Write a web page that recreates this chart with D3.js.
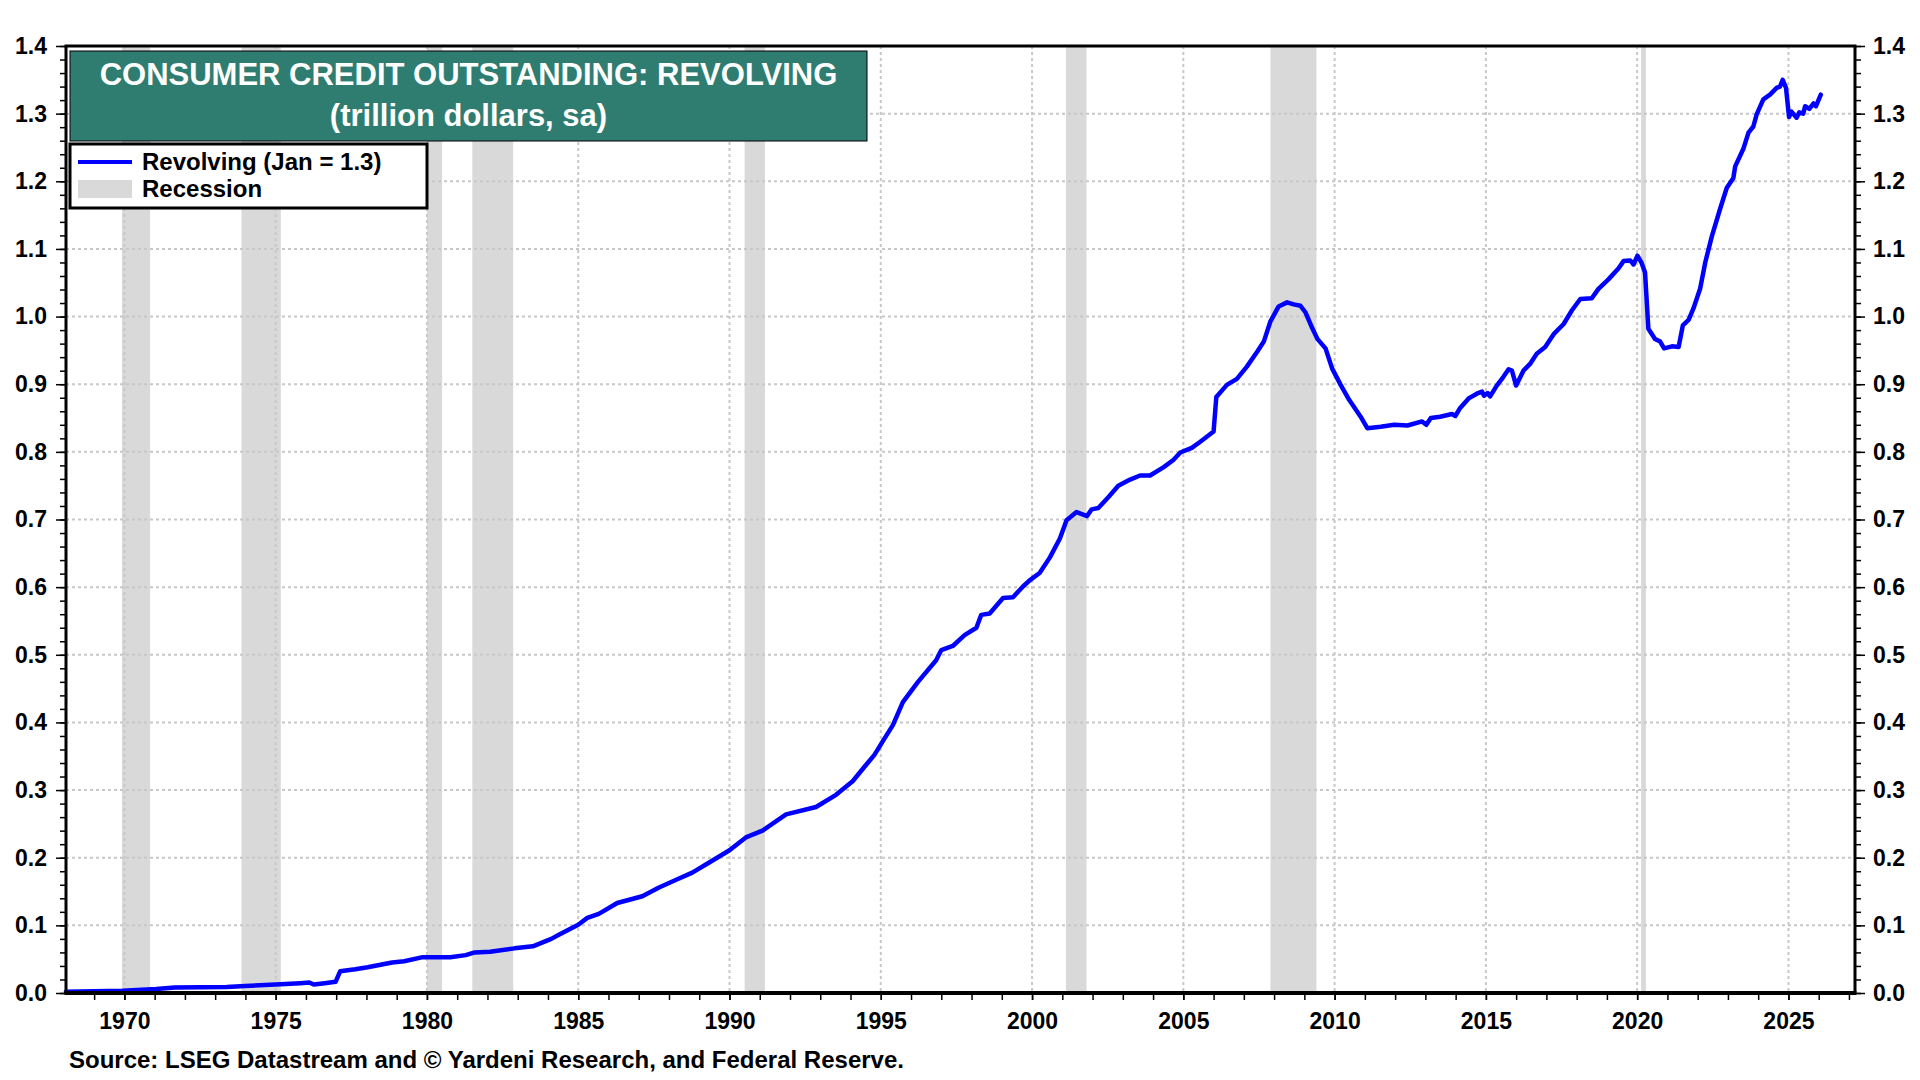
<!DOCTYPE html>
<html><head><meta charset="utf-8">
<script src="https://cdn.jsdelivr.net/npm/d3@7"></script>
<style>
body{margin:0;background:#fff;}
svg{display:block;font-family:"Liberation Sans",Arial,sans-serif;font-weight:bold;}
</style></head><body>
<svg id="chart" width="1920" height="1080"></svg>
<script>
// ---- data ----
const dates = [1968.07,1969.94,1971.05,1971.66,1973.38,1973.99,1975.0,1975.81,1976.11,1976.26,1976.62,1976.98,1977.13,1977.63,1978.04,1978.85,1979.25,1979.86,1980.77,1981.28,1981.58,1982.09,1982.89,1983.5,1984.11,1984.36,1985.0,1985.3,1985.68,1986.29,1987.12,1987.67,1988.22,1988.77,1989.33,1990.0,1990.54,1991.09,1991.87,1992.86,1993.52,1994.07,1994.51,1994.79,1995.12,1995.4,1995.73,1996.23,1996.83,1997.0,1997.38,1997.77,1998.16,1998.32,1998.6,1999.04,1999.37,1999.7,1999.92,2000.25,2000.59,2000.92,2001.14,2001.47,2001.82,2001.97,2002.19,2002.52,2002.85,2003.24,2003.57,2003.9,2004.34,2004.67,2004.9,2005.28,2005.56,2006.0,2006.09,2006.44,2006.77,2007.1,2007.44,2007.66,2007.88,2008.15,2008.43,2008.65,2008.87,2009.04,2009.26,2009.43,2009.7,2009.92,2010.2,2010.48,2010.86,2011.08,2011.52,2011.97,2012.41,2012.89,2013.03,2013.18,2013.49,2013.88,2013.99,2014.15,2014.43,2014.7,2014.87,2014.94,2015.06,2015.14,2015.36,2015.58,2015.75,2015.86,2016.0,2016.24,2016.46,2016.68,2016.96,2017.24,2017.57,2017.84,2018.12,2018.5,2018.72,2019.05,2019.38,2019.55,2019.77,2019.88,2020.01,2020.15,2020.26,2020.37,2020.59,2020.76,2020.89,2021.15,2021.37,2021.51,2021.7,2021.86,2022.08,2022.25,2022.47,2022.74,2022.96,2023.18,2023.24,2023.51,2023.68,2023.84,2023.95,2024.17,2024.39,2024.61,2024.72,2024.81,2024.92,2025.02,2025.1,2025.27,2025.36,2025.49,2025.55,2025.69,2025.83,2025.91,2026.07];
const revolving = [0.002,0.0035,0.006,0.008,0.009,0.0105,0.0125,0.0145,0.0155,0.0125,0.0145,0.0165,0.032,0.035,0.038,0.045,0.047,0.053,0.053,0.056,0.06,0.061,0.066,0.069,0.08,0.086,0.101,0.111,0.117,0.133,0.143,0.156,0.167,0.178,0.193,0.211,0.23,0.24,0.264,0.275,0.293,0.313,0.337,0.352,0.376,0.396,0.43,0.46,0.492,0.507,0.513,0.529,0.54,0.559,0.561,0.584,0.585,0.601,0.61,0.621,0.644,0.672,0.699,0.711,0.705,0.715,0.717,0.733,0.75,0.759,0.765,0.765,0.777,0.788,0.799,0.806,0.815,0.83,0.881,0.899,0.908,0.926,0.948,0.963,0.993,1.015,1.021,1.018,1.016,1.006,0.983,0.967,0.953,0.923,0.899,0.877,0.852,0.835,0.837,0.84,0.839,0.845,0.84,0.85,0.852,0.856,0.853,0.865,0.879,0.886,0.889,0.883,0.887,0.882,0.898,0.911,0.922,0.92,0.898,0.92,0.93,0.945,0.955,0.974,0.989,1.009,1.026,1.027,1.041,1.055,1.071,1.082,1.083,1.077,1.09,1.079,1.065,0.982,0.967,0.963,0.953,0.956,0.955,0.987,0.995,1.012,1.041,1.08,1.119,1.159,1.19,1.205,1.222,1.248,1.272,1.281,1.299,1.321,1.328,1.338,1.34,1.35,1.338,1.295,1.303,1.294,1.302,1.3,1.311,1.307,1.315,1.311,1.328];
const recessionStart = [1969.92,1973.87,1980.0,1981.5,1990.5,2001.12,2007.88,2020.13];
const recessionEnd   = [1970.85,1975.17,1980.5,1982.85,1991.17,2001.8,2009.4,2020.29];
const yTickValues = [0,0.1,0.2,0.3,0.4,0.5,0.6,0.7,0.8,0.9,1.0,1.1,1.2,1.3,1.4];
const xTickYears = [1970,1975,1980,1985,1990,1995,2000,2005,2010,2015,2020,2025];
const titleLines = ["CONSUMER CREDIT OUTSTANDING: REVOLVING","(trillion dollars, sa)"];
const legendLabels = ["Revolving (Jan = 1.3)","Recession"];
const sourceText = "Source: LSEG Datastream and \u00A9 Yardeni Research, and Federal Reserve.";

// ---- layout ----
const m = {left:66, right:1855, top:46, bottom:993};
const svg = d3.select("#chart");
const x = d3.scaleLinear().domain([1968.07, 2027.2]).range([m.left, m.right]);
const y = d3.scaleLinear().domain([0, 1.4]).range([m.bottom, m.top]);
const BLUE = "#0000ff", GREY = "#d9d9d9", GRID = "#c8c8c8", TEAL = "#2e7d70";

// recession bands
svg.append("g").selectAll("rect").data(recessionStart).join("rect")
  .attr("x", (d,i) => x(d))
  .attr("width", (d,i) => x(recessionEnd[i]) - x(d))
  .attr("y", m.top).attr("height", m.bottom - m.top)
  .attr("fill", GREY);

// gridlines
const grid = svg.append("g").attr("stroke", GRID).attr("stroke-width", 2).attr("stroke-dasharray", "3,3");
grid.selectAll("line.h").data(yTickValues.filter(v => v > 0 && v < 1.4)).join("line")
  .attr("x1", m.left).attr("x2", m.right)
  .attr("y1", d => y(d)).attr("y2", d => y(d));
grid.selectAll("line.v").data(xTickYears).join("line")
  .attr("x1", d => x(d)).attr("x2", d => x(d))
  .attr("y1", m.top).attr("y2", m.bottom);

// series line
const pts = dates.map((d,i) => [d, revolving[i]]);
svg.append("path").datum(pts)
  .attr("fill", "none").attr("stroke", BLUE).attr("stroke-width", 4.5)
  .attr("stroke-linejoin", "round").attr("stroke-linecap", "round")
  .attr("d", d3.line().x(d => x(d[0])).y(d => y(d[1])));

// axes
const minorY = d3.range(0, 71).map(i => i / 50);
const fmtY = d3.format(".1f");
function styleAxis(g){ g.select(".domain").remove(); g.selectAll("line").attr("stroke","#000").attr("stroke-width",1.5); g.selectAll("text").attr("font-size",23).attr("font-weight","bold").attr("fill","#000").attr("font-family","'Liberation Sans',Arial,sans-serif"); }

svg.append("g").attr("transform", `translate(${m.left},0)`)
  .call(d3.axisLeft(y).tickValues(minorY).tickSize(6).tickFormat("")).call(styleAxis);
svg.append("g").attr("transform", `translate(${m.left},0)`)
  .call(d3.axisLeft(y).tickValues(yTickValues).tickSize(10).tickPadding(9).tickFormat(fmtY)).call(styleAxis);
svg.append("g").attr("transform", `translate(${m.right},0)`)
  .call(d3.axisRight(y).tickValues(minorY).tickSize(6).tickFormat("")).call(styleAxis);
svg.append("g").attr("transform", `translate(${m.right},0)`)
  .call(d3.axisRight(y).tickValues(yTickValues).tickSize(10).tickPadding(8).tickFormat(fmtY)).call(styleAxis);
svg.append("g").attr("transform", `translate(0,${m.bottom})`)
  .call(d3.axisBottom(x).tickValues(d3.range(1969, 2028)).tickSize(7).tickFormat("")).call(styleAxis);
svg.append("g").attr("transform", `translate(0,${m.bottom})`)
  .call(d3.axisBottom(x).tickValues(xTickYears).tickSize(7).tickPadding(13).tickFormat(d3.format("d"))).call(styleAxis);

// frame
const frame = svg.append("g").attr("stroke", "#000");
frame.append("line").attr("x1", m.left-1.5).attr("x2", m.right+1.5).attr("y1", m.top).attr("y2", m.top).attr("stroke-width", 3);
frame.append("line").attr("x1", m.left).attr("x2", m.left).attr("y1", m.top).attr("y2", m.bottom).attr("stroke-width", 3);
frame.append("line").attr("x1", m.right).attr("x2", m.right).attr("y1", m.top).attr("y2", m.bottom).attr("stroke-width", 3);
frame.append("line").attr("x1", m.left-1.5).attr("x2", m.right+1.5).attr("y1", m.bottom).attr("y2", m.bottom).attr("stroke-width", 4);

// title box
svg.append("rect").attr("x", 70).attr("y", 51).attr("width", 797).attr("height", 90)
  .attr("fill", TEAL).attr("stroke", "#000").attr("stroke-width", 1);
svg.append("g").selectAll("text").data(titleLines).join("text")
  .attr("x", 468.5).attr("y", (d,i) => 85 + i*41)
  .attr("text-anchor", "middle").attr("fill", "#fff").attr("font-size", 31)
  .text(d => d);

// legend
svg.append("rect").attr("x", 70).attr("y", 144).attr("width", 357).attr("height", 64)
  .attr("fill", "#fff").attr("stroke", "#000").attr("stroke-width", 3);
svg.append("line").attr("x1", 78).attr("x2", 132).attr("y1", 162).attr("y2", 162)
  .attr("stroke", BLUE).attr("stroke-width", 4);
svg.append("rect").attr("x", 78).attr("y", 180).attr("width", 54).attr("height", 18).attr("fill", GREY);
svg.append("g").selectAll("text").data(legendLabels).join("text")
  .attr("x", 142).attr("y", (d,i) => 170 + i*27)
  .attr("font-size", 24).attr("fill", "#000").text(d => d);

// source
svg.append("text").attr("x", 69).attr("y", 1068).attr("font-size", 24).attr("fill", "#000").text(sourceText);
</script>
</body></html>
